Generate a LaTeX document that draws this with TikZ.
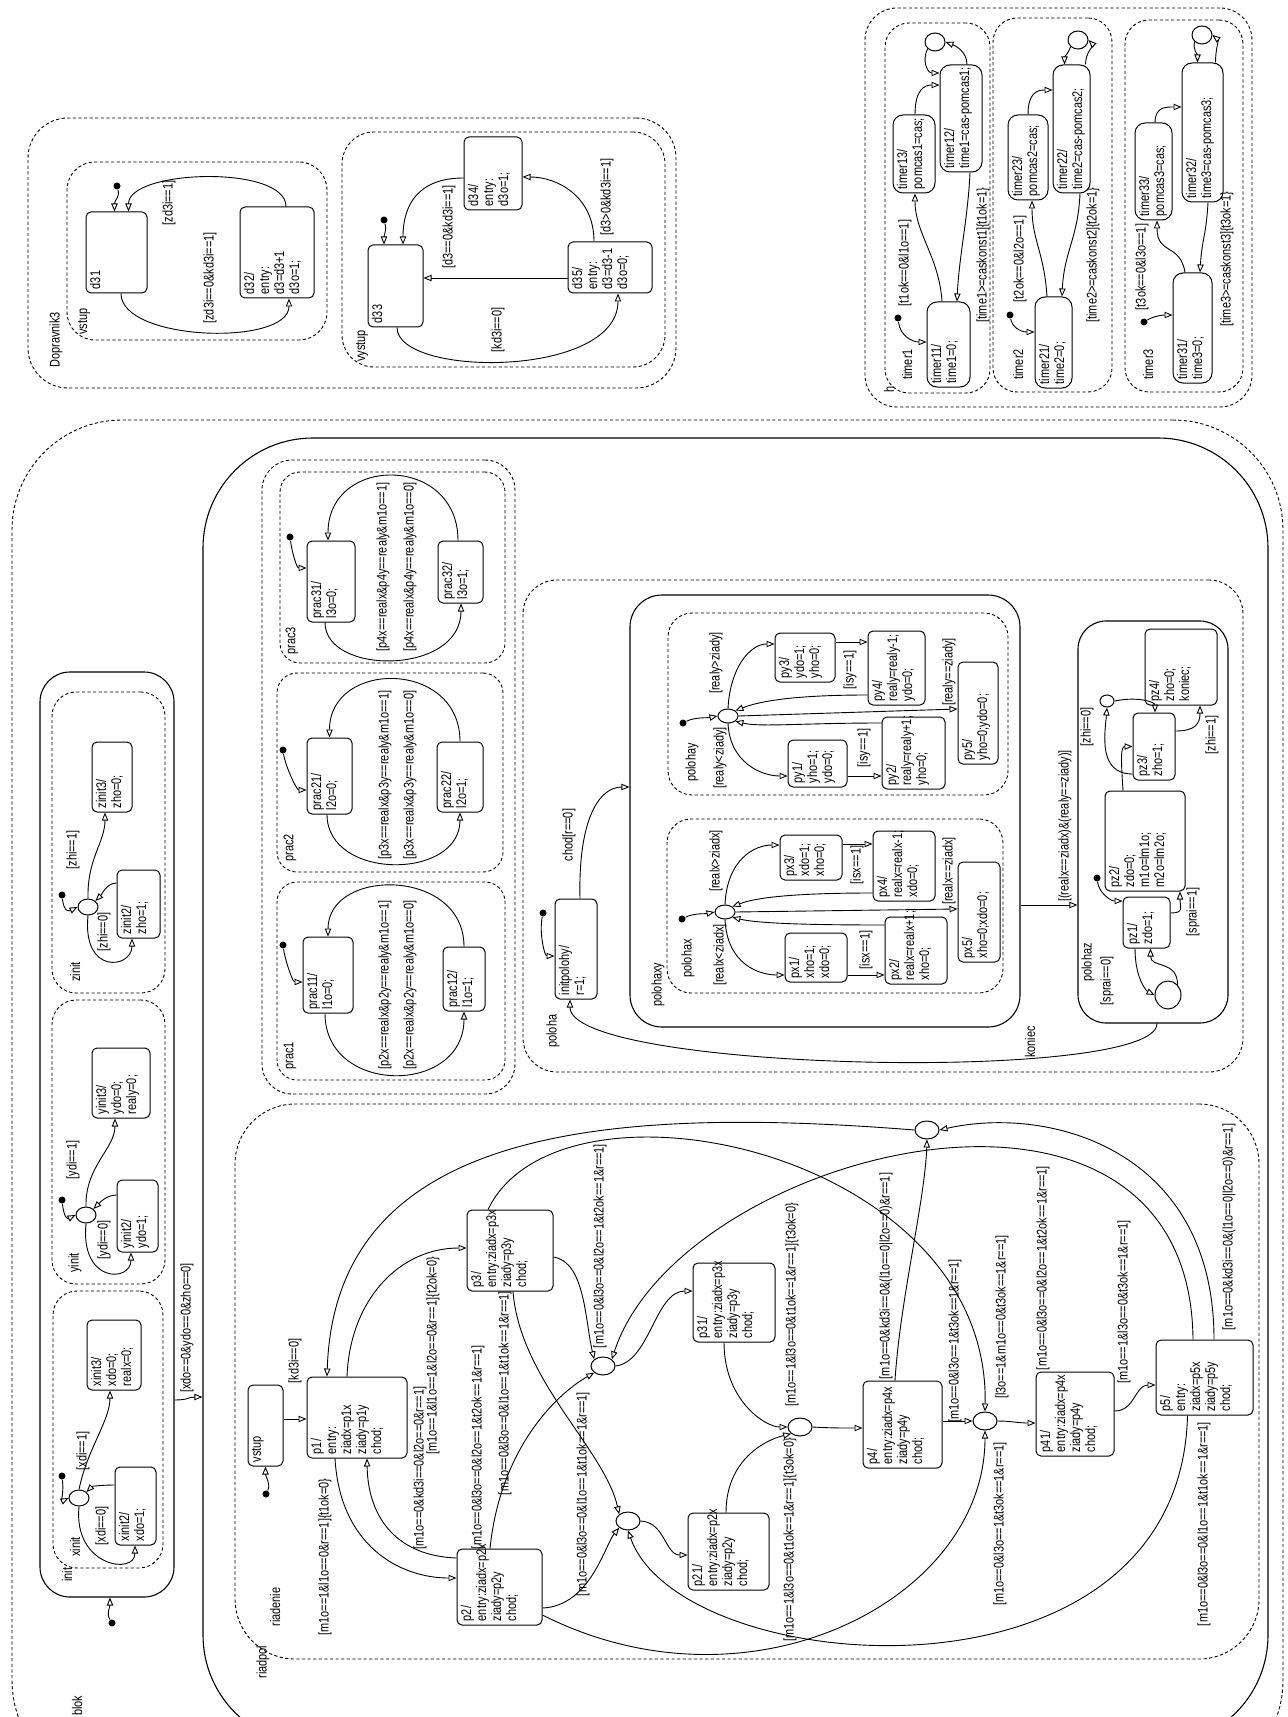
\documentclass[tikz,border=0pt]{standalone}
\usepackage{fontspec}
\setmainfont{Liberation Sans}[FakeStretch=0.78]
\usetikzlibrary{arrows.meta,shapes.geometric,fit}
\newcommand\mkst[7][stbox]{%
  \node[#1, fit={(#3,#4) (#5,#6)}] (#2) {};
  \node[sttext] (#2t) at (#2.south west) {#7};}
\begin{document}
\begin{tikzpicture}[x=0.5pt,y=-0.5pt,
  every node/.style={font=\fontsize{7}{7.5}\selectfont},
  stbox/.style={draw, rounded corners=2.5pt, line width=0.5pt, inner sep=0pt},
  tmbox/.style={draw, rounded corners=5pt, line width=0.5pt, inner sep=0pt},
  dsup/.style={draw, dash pattern=on 1.6pt off 1.2pt, line width=0.45pt, inner sep=0pt, rounded corners=#1},
  ssup/.style={draw, line width=0.55pt, inner sep=0pt, rounded corners=#1},
  sttext/.style={rotate=90, anchor=north west, align=left, inner sep=2pt},
  grp/.style={rotate=90, anchor=west, inner sep=0pt},
  lab/.style={rotate=90, inner sep=0pt},
  junc/.style={draw, ellipse, minimum width=12pt, minimum height=9pt, inner sep=0pt, line width=0.5pt},
  loopj/.style={draw, ellipse, minimum width=10pt, minimum height=9pt, inner sep=0pt, line width=0.5pt},
  dotn/.style={circle, fill, minimum size=3.5pt, inner sep=0pt},
  tr/.style={line width=0.45pt, -{Triangle[open, length=4pt, width=3.2pt]}}
]
\useasboundingbox (0,0) rectangle (1288,1717);
\clip (0,0) rectangle (1288,1717);
\fill[white] (0,0) rectangle (1288,1717);

% ================= Dopravnik3 =================
\node[dsup=20pt, fit={(28,118) (676,388)}] (dop) {};
\node[grp] (dopl) at (56,368) {Dopravnik3};
\node[dsup=14pt, fit={(67,162) (327,340)}] (vstupg) {};
\node[grp] (vstupl) at (84,335) {vstup};
\mkst{d31}{86}{212}{147}{293}{d31}
\mkst{d32}{240}{207}{314}{298}{d32/\\entry:\\d3=d3+1\\d3o=1;}
\node[dotn] (dot31) at (117,186) {};
\node[dsup=16pt, fit={(342,132) (665,367)}] (vystupg) {};
\node[grp] (vystupl) at (362,362) {vystup};
\mkst{d33}{368}{245}{423}{327}{d33}
\mkst{d34}{464}{137}{522}{210}{d34/\\entry:\\d3o=1;}
\mkst{d35}{568}{242}{652}{293}{d35/\\entry:\\d3=d3-1\\d3o=0;}
\node[dotn] (dot33) at (384,220) {};

\draw[tr] (dot31) .. controls +(3,12) and +(0,-12) .. ([shift={(-2,0)}]d31.north);
\draw[tr] ([shift={(9,0)}]d32.north) .. controls +(0,-42) and +(0,-42) .. ([shift={(12,0)}]d31.north);
\draw[tr] ([shift={(4.5,0)}]d31.south) .. controls +(0,48) and +(0,48) .. ([shift={(12,0)}]d32.south);
\draw[tr] (dot33) .. controls +(3,12) and +(0,-12) .. ([shift={(-11.5,0)}]d33.north);
\draw[tr] ([shift={(0,4.5)}]d34.west) .. controls +(-45,0) and +(0,-40) .. ([shift={(7.5,0)}]d33.north);
\draw[tr] ([shift={(0,10.5)}]d35.west) -- ([shift={(0,-8)}]d33.east);
\draw[tr] ([shift={(1.5,0)}]d33.south) .. controls +(0,50) and +(0,85) .. ([shift={(8,0)}]d35.south);
\draw[tr] ([shift={(-16,0)}]d35.north) .. controls +(0,-45) and +(35,0) .. ([shift={(0,3.5)}]d34.east);
\node[lab] (lzd1) at (169,203) {[zd3i==1]};
\node[lab] (lzd0) at (210,278) {[zd3i==0\&kd3i==1]};
\node[lab] (ld30) at (449,227) {[d3==0\&kd3i==1]};
\node[lab] (lkd0) at (498,330) {[kd3i==0]};
\node[lab] (ld3p) at (607,197) {[d3>0\&kd3i==1]};

% ================= timers =================
\node[dsup=16pt, fit={(865,8) (1252,407)}] (timg) {};
\node[grp] (timl) at (889,393) {h};
\node[dsup=12pt, fit={(885,23) (990,393)}] (t1g) {};
\node[grp] (t1l) at (907,380) {timer1};
\node[dsup=12pt, fit={(993,18) (1112,392)}] (t2g) {};
\node[grp] (t2l) at (1018,380) {timer2};
\node[dsup=12pt, fit={(1125,20) (1243,392)}] (t3g) {};
\node[grp] (t3l) at (1148,380) {timer3};

\mkst[tmbox]{timer11}{927}{302}{970}{387}{timer11/\\time1=0;}
\mkst[tmbox]{timer12}{940}{65}{982}{172}{timer12/\\time1=cas-pomcas1;}
\mkst[tmbox]{timer13}{893}{115}{935}{193}{timer13/\\pomcas1=cas;}
\node[loopj] (jt1) at (935,42) {};
\node[dotn] (dott1) at (898,318) {};
\draw[tr] (dott1) .. controls +(2,18) and +(-14,0) .. ([shift={(0,-2.5)}]timer11.west);
\draw[tr] ([shift={(-6.5,0)}]timer11.north) .. controls +(-3,-45) and +(0,40) .. ([shift={(1,0)}]timer13.south);
\draw[tr] ([shift={(9,0)}]timer12.south) .. controls +(-2,45) and +(2,-45) .. ([shift={(8.5,0)}]timer11.north);
\draw[tr] ([shift={(1,0)}]timer13.north) .. controls +(0,-25) and +(-15,0) .. ([shift={(0,-33.5)}]timer12.west);
\draw[tr] (jt1.south west) .. controls +(-6,12) and +(-12,0) .. ([shift={(0,-45.5)}]timer12.west);
\draw[tr] ([shift={(6,0)}]timer12.north) .. controls +(0,-14) and +(8,3) .. (jt1.east);
\node[lab] (lt1a) at (905,263) {[t1ok==0\&l1o==1]};
\node[lab] (lt1b) at (983,255) {[time1>=caskonst1]\{t1ok=1\}};

\mkst[tmbox]{timer21}{1035}{297}{1072}{388}{timer21/\\time2=0;}
\mkst[tmbox]{timer22}{1053}{65}{1090}{193}{timer22/\\time2=cas-pomcas2;}
\mkst[tmbox]{timer23}{1008}{115}{1048}{200}{timer23/\\pomcas2=cas;}
\node[loopj] (jt2) at (1078,40) {};
\node[dotn] (dott2) at (1010,315) {};
\draw[tr] (dott2) .. controls +(2,12) and +(-14,0) .. ([shift={(0,-10.5)}]timer21.west);
\draw[tr] ([shift={(-6.5,0)}]timer21.north) .. controls +(-3,-45) and +(0,40) .. ([shift={(4,0)}]timer23.south);
\draw[tr] ([shift={(8.5,0)}]timer22.south) .. controls +(-2,45) and +(2,-45) .. ([shift={(8.5,0)}]timer21.north);
\draw[tr] (timer23.north) .. controls +(0,-22) and +(-15,0) .. ([shift={(0,-39)}]timer22.west);
\draw[tr] (jt2.south west) .. controls +(-3,8) and +(0,-8) .. ([shift={(-7,0)}]timer22.north);
\draw[tr] ([shift={(14,0)}]timer22.north) .. controls +(0,-12) and +(5,5) .. (jt2.east);
\node[lab] (lt2a) at (1020,259) {[t2ok==0\&l2o==1]};
\node[lab] (lt2b) at (1093,255) {[time2>=caskonst2]\{t2ok=1\}};

\mkst[tmbox]{timer31}{1173}{273}{1212}{383}{timer31/\\time3=0;}
\mkst[tmbox]{timer32}{1182}{63}{1223}{202}{timer32/\\time3=cas-pomcas3;}
\mkst[tmbox]{timer33}{1135}{123}{1172}{220}{timer33/\\pomcas3=cas;}
\node[loopj] (jt3) at (1202,35) {};
\node[dotn] (dott3) at (1144,322) {};
\draw[tr] (dott3) .. controls +(10,-6) and +(-10,0) .. ([shift={(0,-13)}]timer31.west);
\draw[tr] ([shift={(-7.5,0)}]timer31.north) .. controls +(-5,-30) and +(0,35) .. ([shift={(3.5,0)}]timer33.south);
\draw[tr] ([shift={(5.5,0)}]timer32.south) .. controls +(-2,35) and +(2,-35) .. ([shift={(7.5,0)}]timer31.north);
\draw[tr] ([shift={(1.5,0)}]timer33.north) .. controls +(0,-16) and +(-15,0) .. ([shift={(0,-25.5)}]timer32.west);
\draw[tr] (jt3.south west) .. controls +(-2,8) and +(0,-8) .. ([shift={(-5,0)}]timer32.north);
\draw[tr] ([shift={(13,0)}]timer32.north) .. controls +(0,-12) and +(6,5) .. (jt3.east);
\node[lab] (lt3a) at (1142,267) {[t3ok==0\&l3o==1]};
\node[lab] (lt3b) at (1227,259) {[time3>=caskonst3]\{t3ok=1\}};

% ================= blok / init =================
\node[dsup=55pt, fit={(12,420) (1283,1790)}] (blok) {};
\node[grp] (blokl) at (77,1716) {blok};
\node[dotn] (dotb) at (112,1623) {};
\node[ssup=15pt, fit={(40,672) (174,1597)}] (init) {};
\node[grp] (initl) at (67,1582) {init};
\draw[tr] (dotb) .. controls +(-6,-10) and +(0,10) .. ([shift={(3,0)}]init.south);

\node[dsup=12pt, fit={(52,692) (165,993)}] (zinit) {};
\node[grp] (zinitl) at (75,982) {zinit};
\mkst{zinit3}{92}{742}{132}{812}{zinit3/\\zho=0;}
\mkst{zinit2}{117}{870}{160}{938}{zinit2/\\zho=1;}
\node[junc, minimum width=10pt, minimum height=8pt] (jz) at (88,907) {};
\node[dotn] (dotz) at (62,895) {};
\draw[tr] (dotz) .. controls +(2,18) and +(-8,4) .. (jz.west);
\draw[tr] (jz.north) .. controls +(-1,-40) and +(0,30) .. ([shift={(-7,0)}]zinit3.south);
\draw[tr] (jz.south) .. controls +(-6,60) and +(0,30) .. ([shift={(-6.5,0)}]zinit2.south);
\draw[tr] ([shift={(0,-21)}]zinit2.west) .. controls +(-10,0) and +(6,-6) .. (jz.north east);
\node[lab] (lzhi1) at (73,850) {[zhi==1]};
\node[lab] (lzhi0) at (104,932) {[zhi==0]};

\node[dsup=12pt, fit={(52,1000) (165,1284)}] (yinit) {};
\node[grp] (yinitl) at (75,1273) {yinit};
\mkst{yinit3}{92}{1048}{150}{1118}{yinit3/\\ydo=0;\\realy=0;}
\mkst{yinit2}{117}{1180}{158}{1252}{yinit2/\\ydo=1;}
\node[junc, minimum width=10pt, minimum height=8pt] (jy0) at (86,1215) {};
\node[dotn] (doty) at (62,1200) {};
\draw[tr] (doty) .. controls +(2,18) and +(-8,4) .. (jy0.west);
\draw[tr] (jy0.north) .. controls +(-1,-40) and +(0,30) .. ([shift={(-6,0)}]yinit3.south);
\draw[tr] (jy0.south) .. controls +(-6,60) and +(0,30) .. ([shift={(-6.5,0)}]yinit2.south);
\draw[tr] ([shift={(0,-21)}]yinit2.west) .. controls +(-10,0) and +(6,-6) .. (jy0.north east);
\node[lab] (lydi1) at (73,1160) {[ydi==1]};
\node[lab] (lydi0) at (104,1240) {[ydi==0]};

\node[dsup=12pt, fit={(53,1291) (163,1568)}] (xinit) {};
\node[grp] (xinitl) at (75,1557) {xinit};
\mkst{xinit3}{87}{1320}{141}{1390}{xinit3/\\xdo=0;\\realx=0;}
\mkst{xinit2}{115}{1467}{156}{1545}{xinit2/\\xdo=1;}
\node[junc, minimum width=10pt, minimum height=8pt] (jx0) at (79,1498) {};
\node[dotn] (dotx) at (62,1476) {};
\draw[tr] (dotx) .. controls +(2,18) and +(-8,4) .. (jx0.west);
\draw[tr] (jx0.north) .. controls +(8,-40) and +(0,30) .. ([shift={(-4,0)}]xinit3.south);
\draw[tr] (jx0.south) .. controls +(-6,60) and +(0,30) .. ([shift={(-0.5,0)}]xinit2.south);
\draw[tr] ([shift={(0,-21)}]xinit2.west) .. controls +(-10,0) and +(6,-6) .. (jx0.north east);
\node[lab] (lxdi1) at (83,1451) {[xdi==1]};
\node[lab] (lxdi0) at (102,1526) {[xdi==0]};

% ================= riadpol =================
\node[ssup=55pt, fit={(203,438) (1268,1745)}] (riadpol) {};
\node[grp] (riadpoll) at (263,1679) {riadpol};
\draw[tr] ([shift={(0,265.5)}]init.east) .. controls +(14,0) and +(-14,0) .. ([shift={(0,305.5)}]riadpol.west);
\node[lab] (lxyz) at (187,1328) {[xdo==0\&ydo==0\&zho==0]};

% ---- prac
\node[dsup=15pt, fit={(262,460) (515,1094)}] (pracg) {};
\node[dsup=10pt, fit={(280,472) (505,663)}] (prac3) {};
\node[grp] (prac3l) at (292,655) {prac3};
\node[dsup=10pt, fit={(277,673) (503,872)}] (prac2) {};
\node[grp] (prac2l) at (290,862) {prac2};
\node[dsup=10pt, fit={(277,882) (505,1080)}] (prac1) {};
\node[grp] (prac1l) at (290,1070) {prac1};
\mkst{prac31}{307}{541}{355}{622}{prac31/\\l3o=0;}
\mkst{prac32}{438}{541}{483}{603}{prac32/\\l3o=1;}
\node[dotn] (dotp3) at (290,537) {};
\mkst{prac21}{307}{738}{352}{814}{prac21/\\l2o=0;}
\mkst{prac22}{437}{742}{483}{812}{prac22/\\l2o=1;}
\node[dotn] (dotp2) at (283,750) {};
\mkst{prac11}{303}{937}{353}{1013}{prac11/\\l1o=0;}
\mkst{prac12}{443}{947}{485}{1011}{prac12/\\l1o=1;}
\node[dotn] (dotp1) at (283,945) {};
\draw[tr] (dotp3) .. controls +(2,15) and +(-10,0) .. ([shift={(0,-13.5)}]prac31.west);
\draw[tr] ([shift={(-2.5,0)}]prac32.north) .. controls +(0,-86) and +(0,-86) .. ([shift={(-3,0)}]prac31.north);
\draw[tr] ([shift={(-6,0)}]prac31.south) .. controls +(0,53) and +(0,72) .. ([shift={(0.5,0)}]prac32.south);
\draw[tr] (dotp2) .. controls +(2,15) and +(-10,0) .. ([shift={(0,14)}]prac21.west);
\draw[tr] (prac22.north) .. controls +(0,-82) and +(0,-78) .. (prac21.north);
\draw[tr] ([shift={(-2.5,0)}]prac21.south) .. controls +(0,66) and +(0,68) .. (prac22.south);
\draw[tr] (dotp1) .. controls +(2,15) and +(-10,0) .. ([shift={(0,7)}]prac11.west);
\draw[tr] (prac12.north) .. controls +(0,-79) and +(0,-69) .. (prac11.north);
\draw[tr] ([shift={(-3,0)}]prac11.south) .. controls +(0,82) and +(0,84) .. (prac12.south);
\node[lab] (lp31) at (383,567) {[p4x==realx\&p4y==realy\&m1o==1]};
\node[lab] (lp30) at (410,567) {[p4x==realx\&p4y==realy\&m1o==0]};
\node[lab] (lp21) at (385,775) {[p3x==realx\&p3y==realy\&m1o==1]};
\node[lab] (lp20) at (410,775) {[p3x==realx\&p3y==realy\&m1o==0]};
\node[lab] (lp11) at (385,985) {[p2x==realx\&p2y==realy\&m1o==1]};
\node[lab] (lp10) at (410,985) {[p2x==realx\&p2y==realy\&m1o==0]};

% ---- poloha
\node[dsup=17pt, fit={(523,580) (1243,1072)}] (poloha) {};
\node[grp] (polohal) at (553,1048) {poloha};
\mkst{initpolohy}{555}{899}{597}{999}{initpolohy/\\r=1;}
\node[dotn] (dotpol) at (543,913) {};
\node[ssup=16pt, fit={(630,595) (1020,1027)}] (polohaxy) {};
\node[grp] (polohaxyl) at (658,1007) {polohaxy};
\node[ssup=14pt, fit={(1078,621) (1228,1023)}] (polohaz) {};
\node[grp] (polohazl) at (1088,982) {polohaz};
\node[dsup=12pt, fit={(668,613) (1008,795)}] (polohay) {};
\node[grp] (polohayl) at (692,782) {polohay};
\node[dsup=12pt, fit={(667,819) (1003,993)}] (polohax) {};
\node[grp] (polohaxl) at (688,978) {polohax};
\draw[tr] (dotpol) .. controls +(-4,20) and +(-10,0) .. ([shift={(0,7)}]initpolohy.west);
\draw[tr] ([shift={(4,0)}]initpolohy.north) .. controls +(-2,-80) and +(-30,0) .. ([shift={(0,-24)}]polohaxy.west);
\node[lab] (lchod) at (569,835) {chod[r==0]};
\draw[tr] ([shift={(0,94)}]polohaxy.east) -- ([shift={(0,83)}]polohaz.west);
\node[lab] (lrxy) at (1065,826) {[(realx==ziadx)\&(realy==ziady)]};
\draw[tr] ([shift={(4,0)}]polohaz.south) .. controls +(0,60) and +(0,72) .. ([shift={(-6,0)}]initpolohy.south);
\node[lab] (lkon) at (1030,1042) {koniec};

\mkst{py3}{775}{633}{835}{682}{py3/\\ydo=1;\\yho=0;}
\mkst{py4}{868}{631}{925}{705}{py4/\\realy=realy-1;\\ydo=0;}
\mkst{py1}{788}{740}{847}{787}{py1/\\yho=1;\\ydo=0;}
\mkst{py2}{882}{717}{945}{789}{py2/\\realy=realy+1;\\yho=0;}
\mkst{py5}{958}{662}{998}{764}{py5/\\yho=0;ydo=0;}
\node[junc, minimum width=10pt, minimum height=7pt] (jpy) at (728,716) {};
\node[dotn] (dotpy) at (683,723) {};
\draw[tr] (dotpy) .. controls +(12,-6) and +(-10,2) .. (jpy.west);
\draw[tr] (jpy.north) .. controls +(2,-40) and +(-25,0) .. ([shift={(0,-13.5)}]py3.west);
\draw[tr] (jpy.south) .. controls +(2,40) and +(-25,0) .. ([shift={(0,12.5)}]py1.west);
\draw[tr] ([shift={(0,-15.5)}]py3.east) -- ([shift={(0,-26)}]py4.west);
\draw[tr] ([shift={(0,27)}]py4.west) .. controls +(-70,0) and +(25,-10) .. (jpy.north east);
\draw[tr] ([shift={(0,12.5)}]py1.east) -- ([shift={(0,23)}]py2.west);
\draw[tr] ([shift={(0,-30)}]py2.west) .. controls +(-80,0) and +(25,6) .. (jpy.south east);
\draw[tr] (jpy.east) -- ([shift={(0,-4)}]py5.west);
\node[lab] (lpyg) at (716,663) {[realy>ziady]};
\node[lab] (lpyl) at (720,758) {[realy<ziady]};
\node[lab] (lisy1) at (850,670) {[isy==1]};
\node[lab] (lisy2) at (864,748) {[isy==1]};
\node[lab] (lpye) at (949,672) {[realy==ziady]};

\mkst{px3}{780}{835}{842}{880}{px3/\\xdo=1;\\xho=0;}
\mkst{px4}{873}{831}{935}{901}{px4/\\realx=realx-1;\\xdo=0;}
\mkst{px1}{785}{933}{847}{982}{px1/\\xho=1;\\xdo=0;}
\mkst{px2}{885}{917}{947}{984}{px2/\\realx=realx+1;\\xho=0;}
\mkst{px5}{958}{862}{1000}{962}{px5/\\xho=0;xdo=0;}
\node[junc, minimum width=10pt, minimum height=7pt] (jpx) at (725,912) {};
\node[dotn] (dotpx) at (682,919) {};
\draw[tr] (dotpx) .. controls +(12,-6) and +(-10,2) .. (jpx.west);
\draw[tr] (jpx.north) .. controls +(2,-45) and +(-25,0) .. ([shift={(0,-12.5)}]px3.west);
\draw[tr] (jpx.south) .. controls +(2,45) and +(-25,0) .. ([shift={(0,17.5)}]px1.west);
\draw[tr] ([shift={(0,-13.5)}]px3.east) -- ([shift={(0,-22)}]px4.west);
\draw[tr] ([shift={(0,27)}]px4.west) .. controls +(-70,0) and +(25,-10) .. (jpx.north east);
\draw[tr] ([shift={(0,17.5)}]px1.east) -- ([shift={(0,24.5)}]px2.west);
\draw[tr] ([shift={(0,-25.5)}]px2.west) .. controls +(-80,0) and +(25,6) .. (jpx.south east);
\draw[tr] (jpx.east) -- ([shift={(0,-3)}]px5.west);
\node[lab] (lpxg) at (716,861) {[realx>ziadx]};
\node[lab] (lpxl) at (720,955) {[realx<ziadx]};
\node[lab] (lisx1) at (857,865) {[isx==1]};
\node[lab] (lisx2) at (866,950) {[isx==1]};
\node[lab] (lpxe) at (949,871) {[realx==ziadx]};

\mkst{pz1}{1123}{897}{1170}{948}{pz1/\\zdo=1;}
\mkst{pz2}{1105}{791}{1185}{891}{pz2/\\zdo=0;\\m1o=lm1o;\\m2o=lm2o;}
\mkst{pz3}{1133}{713}{1175}{780}{pz3/\\zho=1;}
\mkst{pz4}{1145}{629}{1217}{705}{pz4/\\zho=0;\\koniec;}
\node[loopj, minimum width=13pt, minimum height=14pt] (jz1) at (1168,995) {};
\node[loopj, minimum width=7pt, minimum height=6pt] (jp3) at (1107,701) {};
\node[dotn] (dotpz) at (1097,878) {};
\draw[tr] (dotpz) .. controls +(2,15) and +(-12,0) .. ([shift={(0,-21.5)}]pz1.west);
\draw[tr] ([shift={(0,-9.5)}]pz1.east) .. controls +(14,0) and +(0,16) .. ([shift={(35,0)}]pz2.south);
\draw[tr] ([shift={(-11.5,0)}]pz1.south) .. controls +(0,30) and +(-8,-4) .. (jz1.west);
\draw[tr] (jz1.north east) .. controls +(0,-25) and +(0,20) .. ([shift={(4,0)}]pz1.south);
\draw[tr] ([shift={(-22,0)}]pz2.north) .. controls +(-2,-30) and +(-12,0) .. (pz3.west);
\draw[tr] ([shift={(0,-15.5)}]pz3.east) .. controls +(20,0) and +(0,18) .. ([shift={(19,0)}]pz4.south);
\draw[tr] ([shift={(0,27.5)}]pz3.west) .. controls +(-35,0) and +(-2,25) .. (jp3.south);
\draw[tr] (jp3.east) .. controls +(25,-5) and +(0,-10) .. ([shift={(1,0)}]pz3.north);
\node[lab] (lspr1) at (1193,912) {[sprai==1]};
\node[lab] (lspr0) at (1107,981) {[sprai==0]};
\node[lab] (lzhi0b) at (1087,727) {[zhi==0]};
\node[lab] (lzhi1b) at (1212,735) {[zhi==1]};

% ---- riadenie
\node[dsup=30pt, fit={(235,1104) (1259,1659)}] (riadenie) {};
\node[grp] (riadeniel) at (275,1627) {riadenie};
\mkst{vstupR}{248}{1385}{283}{1466}{vstup}
\node[dotn] (dotr) at (266,1494) {};
\mkst{p1}{307}{1377}{407}{1458}{p1/\\entry:\\ziadx=p1x\\ziady=p1y\\chod;}
\mkst{p2}{457}{1549}{542}{1625}{p2/\\entry:ziadx=p2x\\ziady=p2y\\chod;}
\mkst{p3}{467}{1210}{553}{1291}{p3/\\entry:ziadx=p3x\\ziady=p3y\\chod;}
\mkst{p31}{693}{1263}{775}{1342}{p31/\\entry:ziadx=p3x\\ziady=p3y\\chod;}
\mkst{p21}{688}{1513}{769}{1590}{p21/\\entry:ziadx=p2x\\ziady=p2y\\chod;}
\mkst{p4}{863}{1381}{942}{1468}{p4/\\entry:ziadx=p4x\\ziady=p4y\\chod;}
\mkst{p41}{1036}{1372}{1114}{1456}{p41/\\entry:ziadx=p4x\\ziady=p4y\\chod;}
\mkst{p5}{1156}{1340}{1253}{1415}{p5/\\entry:\\ziadx=p5x\\ziady=p5y\\chod;}
\node[junc] (j1) at (603,1366) {};
\node[junc] (j2) at (628,1521) {};
\node[junc] (j3) at (800,1427) {};
\node[junc] (j4) at (985,1421) {};
\node[junc] (j5) at (927,1130) {};

\draw[tr] (dotr) .. controls +(5,-10) and +(0,10) .. (vstupR.south);
\draw[tr] ([shift={(0,-6.5)}]vstupR.east) -- ([shift={(0,1.5)}]p1.west);
\draw[tr] ([shift={(-10,0)}]p1.north) .. controls +(3,-77) and +(-67,0) .. ([shift={(0,-2.5)}]p3.west);
\draw[tr] ([shift={(-22,0)}]p1.south) .. controls +(5,87) and +(-57,0) .. ([shift={(0,-9)}]p2.west);
\draw[tr] ([shift={(0,-29)}]p2.west) .. controls +(-57,-2) and +(1,62) .. ([shift={(10,0)}]p1.south);
\draw[tr] (j5.west) .. controls (600,1105) and (335,1130) .. ([shift={(-30,0)}]p1.north);
\draw[tr] ([shift={(0,6.5)}]p3.east) .. controls (585,1262) and (585,1320) .. (j1.north west);
\draw[tr] ([shift={(-9.5,0)}]p2.north) .. controls (500,1450) and (555,1395) .. (j1.south west);
\draw[tr] ([shift={(-11.5,0)}]p5.north) .. controls (1190,1020) and (680,1150) .. (j1.north east);
\draw[tr] (j1.east) .. controls (650,1362) and (655,1291) .. ([shift={(0,-11.5)}]p31.west);
\draw[tr] ([shift={(3,0)}]p3.south) .. controls (520,1380) and (605,1450) .. (j2.north west);
\draw[tr] ([shift={(0,21)}]p2.east) .. controls (590,1606) and (605,1545) .. (j2.south west);
\draw[tr] ([shift={(-17,0)}]p5.south) .. controls (1180,1720) and (680,1680) .. (j2.south);
\draw[tr] (j2.east) .. controls (665,1522) and (665,1555) .. ([shift={(0,3.5)}]p21.west);
\draw[tr] ([shift={(-10,0)}]p31.south) .. controls (724,1400) and (765,1427) .. (j3.west);
\draw[tr] ([shift={(-2.5,0)}]p21.north) .. controls (726,1460) and (765,1440) .. (j3.south west);
\draw[tr] (j3.east) .. controls (830,1428) and (840,1428) .. ([shift={(0,3.5)}]p4.west);
\draw[tr] ([shift={(-7.5,0)}]p4.north) .. controls (900,1300) and (925,1200) .. (j5.south);
\draw[tr] ([shift={(9.5,0)}]p5.north) .. controls (1214,1150) and (1050,1105) .. (j5.east);
\draw[tr] ([shift={(0,-3.5)}]p4.east) -- (j4.west);
\draw[tr] ([shift={(-22,0)}]p3.north) .. controls (560,1060) and (990,1150) .. (j4.north);
\draw[tr] ([shift={(0,28)}]p2.east) .. controls (750,1720) and (985,1600) .. (j4.south);
\draw[tr] (j4.east) .. controls (1010,1421) and (1020,1423) .. ([shift={(0,9)}]p41.west);
\draw[tr] ([shift={(0,-3)}]p41.east) .. controls (1135,1411) and (1135,1385) .. ([shift={(0,7.5)}]p5.west);

\node[lab] (lrk) at (295,1361) {[kd3i==0]};
\node[lab] (lrl) at (325,1557) {[m1o==1\&l1o==0\&r==1]\{t1ok=0\}};
\node[lab] (lrm) at (420,1468) {[m1o==0\&kd3i==0\&l2o==0\&r==1]};
\node[lab] (lrn) at (433,1356) {[m1o==1\&l1o==1\&l2o==0\&r==1]\{t2ok=0\}};
\node[lab] (lro) at (478,1447) {[m1o==0\&l3o==0\&l2o==1\&t2ok==1\&r==1]};
\node[lab] (lrp) at (505,1393) {[m1o==0\&l3o==0\&l1o==1\&t1ok==1\&r==1]};
\node[lab] (lrq) at (583,1494) {[m1o==0\&l3o==0\&l1o==1\&t1ok==1\&r==1]};
\node[lab] (lrr) at (600,1246) {[m1o==0\&l3o==0\&l2o==1\&t2ok==1\&r==1]};
\node[lab] (lra) at (792,1305) {[m1o==1\&l3o==0\&t1ok==1\&r==1]\{t3ok=0\}};
\node[lab] (lrb) at (790,1540) {[m1o==1\&l3o==0\&t1ok==1\&r==1]\{t3ok=0\}};
\node[lab] (lrc) at (886,1276) {[m1o==0\&kd3i==0\&(l1o==0|l2o==0)\&r==1]};
\node[lab] (lrd) at (955,1341) {[m1o==0\&l3o==1\&t3ok==1\&r==1]};
\node[lab] (lre) at (1002,1317) {[l3o==1\&m1o==0\&t3ok==1\&r==1]};
\node[lab] (lrf) at (1000,1524) {[m1o==0\&l3o==1\&t3ok==1\&r==1]};
\node[lab] (lrg) at (1043,1268) {[m1o==0\&l3o==0\&l2o==1\&t2ok==1\&r==1]};
\node[lab] (lrh) at (1124,1302) {[m1o==1\&l3o==0\&t3ok==1\&r==1]};
\node[lab] (lri) at (1229,1227) {[m1o==0\&kd3i==0\&(l1o==0|l2o==0)\&r==1]};
\node[lab] (lrj) at (1204,1524) {[m1o==0\&l3o==0\&l1o==1\&t1ok==1\&r==1]};
\end{tikzpicture}
\end{document}
